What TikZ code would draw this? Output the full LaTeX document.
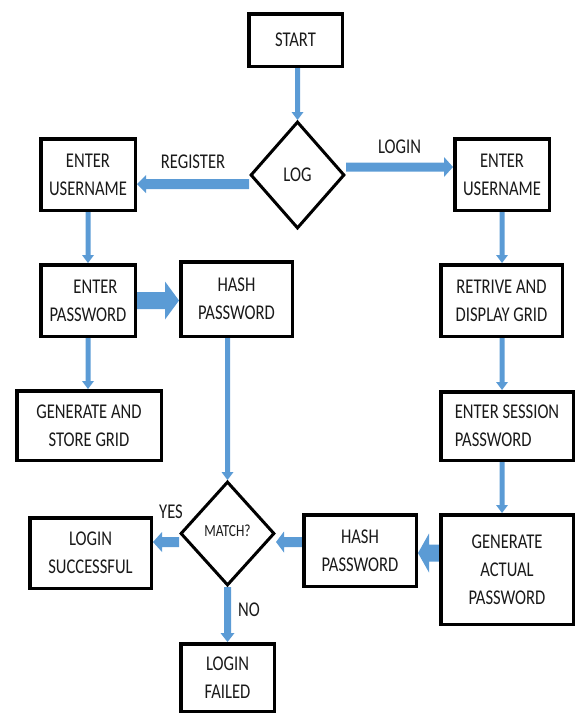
\documentclass[tikz,border=0pt]{standalone}
\usepackage{fontspec}
\setmainfont{Carlito}[FakeStretch=0.79]
\usetikzlibrary{shapes.geometric,calc}
\definecolor{flowblue}{HTML}{5B9BD5}
\definecolor{inkgray}{HTML}{1A1A1A}
\pgfdeclarelayer{arrowlayer}
\pgfsetlayers{arrowlayer,main}
% block arrow: start, end, shaft half width, head half width, head length
\newcommand\barrow[5]{%
  \path (#1) coordinate (ba-s) (#2) coordinate (ba-e);
  \path ($(ba-e)!#5!(ba-s)$) coordinate (ba-h);
  \fill[flow] ($(ba-s)!#3!90:(ba-e)$) -- ($(ba-h)!#3!-90:(ba-s)$)
    -- ($(ba-h)!#4!-90:(ba-s)$) -- (ba-e) -- ($(ba-h)!#4!90:(ba-s)$)
    -- ($(ba-h)!#3!90:(ba-s)$) -- ($(ba-s)!#3!-90:(ba-e)$) -- cycle;}
\begin{document}
\begin{tikzpicture}[x=1pt,y=-1pt,
  every node/.style={text=inkgray, font=\fontsize{21pt}{28pt}\selectfont},
  box/.style={draw=black, line width=3.5pt, fill=white, inner sep=0pt, align=center},
  decision/.style={diamond, draw=black, line width=3pt, fill=white, inner sep=0pt, align=center},
  flow/.style={fill=flowblue},
  tag/.style={inner sep=0pt}]
\useasboundingbox (0,0) rectangle (576,715);

% process boxes
\node[box, minimum width=93.5pt, minimum height=52.5pt] (start) at (295.5,40) {START};
\node[decision, minimum width=94pt, minimum height=107pt] (log) at (297.5,175) {LOG};
\node[box, minimum width=94.5pt, minimum height=71.5pt] (userl) at (88,174.5) {ENTER\\USERNAME};
\node[box, minimum width=94.5pt, minimum height=71.5pt] (userr) at (502,174.5) {ENTER\\USERNAME};
\node[box, minimum width=94.5pt, minimum height=71.5pt] (passl) at (88,300.5) {\hspace*{15pt}ENTER\\PASSWORD};
\node[box, minimum width=111.5pt, minimum height=74.5pt] (hasht) at (236.5,299) {HASH\\PASSWORD};
\node[box, minimum width=144.5pt, minimum height=69.5pt] (grid) at (89,425.5) {GENERATE AND\\STORE GRID};
\node[box, minimum width=121.5pt, minimum height=71.5pt] (retr) at (501.5,300.5) {RETRIVE AND\\DISPLAY GRID};
\node[box, align=left, minimum width=132.5pt, minimum height=68.5pt] (sess) at (507,426) {ENTER SESSION\\PASSWORD};
\node[box, minimum width=132.5pt, minimum height=109.5pt] (actual) at (507,569.5) {GENERATE\\ACTUAL\\PASSWORD};
\node[box, minimum width=112.5pt, minimum height=71.5pt] (hashb) at (360,550.5) {HASH\\PASSWORD};
\node[decision, minimum width=94pt, minimum height=104pt, font=\fontsize{17pt}{20pt}\selectfont] (match) at (227.5,533.5) {\raisebox{5pt}{MATCH?}};
\node[box, minimum width=121.5pt, minimum height=70.5pt] (succ) at (90.5,553) {LOGIN\\SUCCESSFUL};
\node[box, minimum width=93.5pt, minimum height=67.5pt] (fail) at (227.5,677.5) {LOGIN\\FAILED};

% branch labels
\node[tag] (lreg) at (193,161.5) {REGISTER};
\node[tag] (llog) at (399.5,147) {LOGIN};
\node[tag] (lyes) at (171,512) {YES};
\node[tag] (lno) at (249,610) {NO};

% connectors, kept underneath the boxes
\begin{pgfonlayer}{arrowlayer}
\coordinate (a1) at (log.north |- start.south);
\barrow{a1}{log.north}{2.5pt}{6pt}{8pt}
\coordinate (a2) at ($(log.west)+(0,9)$);
\barrow{a2}{a2 -| userl.east}{5pt}{9pt}{9pt}
\coordinate (a3) at ($(log.east)+(0,-8)$);
\barrow{a3}{a3 -| userr.west}{4.5pt}{10pt}{9pt}
\barrow{userl.south}{passl.north}{2.5pt}{6pt}{8pt}
\barrow{passl.east}{passl.east -| hasht.west}{8.5pt}{19pt}{14pt}
\barrow{passl.south}{passl.south |- grid.north}{2.5pt}{6pt}{8pt}
\coordinate (a7) at (match.north |- hasht.south);
\barrow{a7}{match.north}{2.5pt}{6pt}{8pt}
\barrow{userr.south}{userr.south |- retr.north}{2.5pt}{6pt}{8pt}
\barrow{userr.south |- retr.south}{userr.south |- sess.north}{2.5pt}{6pt}{8pt}
\barrow{userr.south |- sess.south}{userr.south |- actual.north}{2.5pt}{6pt}{8pt}
\coordinate (a11) at ($(actual.west)+(0,-16.5)$);
\barrow{a11}{a11 -| hashb.east}{8.5pt}{19.5pt}{11pt}
\coordinate (a12) at ($(hashb.west)+(0,-8.5)$);
\barrow{a12}{a12 -| match.east}{5pt}{10.5pt}{8pt}
\coordinate (a13) at ($(match.west)+(0,8.5)$);
\barrow{a13}{a13 -| succ.east}{5pt}{10pt}{9pt}
\barrow{match.south}{match.south |- fail.north}{3.5pt}{7pt}{9pt}
\end{pgfonlayer}
\end{tikzpicture}
\end{document}
